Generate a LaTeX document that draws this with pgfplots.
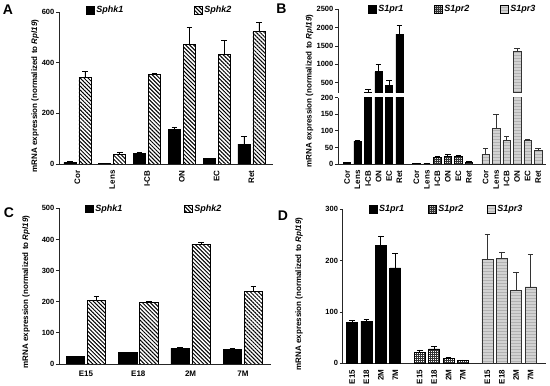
\documentclass[border=0pt]{standalone}
\usepackage{pgfplots}
\pgfplotsset{compat=1.18}
\usepackage{fontspec}
\setmainfont{Liberation Sans}
\usetikzlibrary{patterns,patterns.meta}
\pgfdeclarepatternformonly{finecheck}{\pgfpointorigin}{\pgfqpoint{2.4pt}{2.4pt}}{\pgfqpoint{2.4pt}{2.4pt}}{%
  \pgfpathrectangle{\pgfpointorigin}{\pgfqpoint{2.4pt}{1.2pt}}%
  \pgfpathrectangle{\pgfpointorigin}{\pgfqpoint{1.2pt}{2.4pt}}%
  \pgfusepath{fill}}
\pgfplotsset{
  panel/.style={
    scale only axis, anchor=south west,
    axis x line*=bottom, axis y line*=left,
    axis line style={-, line width=0.8pt, black!85},
    tick align=outside, major tick length=3pt,
    ytick style={line width=0.8pt, black!85},
    xtick style={draw=none},
    /pgf/number format/assume math mode=true,
    /pgf/number format/1000 sep={},
    scaled y ticks=false,
    yticklabel style={font=\bfseries\fontsize{7.5}{8}\selectfont, inner sep=1.5pt},
    xticklabel style={font=\bfseries\fontsize{8}{9}\selectfont},
    legend style={draw=none, fill=none, font=\bfseries\itshape\fontsize{9}{10}\selectfont, inner sep=0pt},
    legend columns=-1,
    legend image code/.code={\draw[##1, draw=black, line width=0.6pt] (0pt,-3.5pt) rectangle (7.5pt,4pt);},
  },
  eb/.style={error bars/y dir=plus, error bars/y explicit,
    error bars/error bar style={line width=0.8pt, #1},
    error bars/error mark options={rotate=90, mark size=2.8pt, line width=0.8pt, #1}},
  bk/.style={ybar, fill=black, draw=black, line width=0.6pt, eb=black},
  hz/.style={ybar, draw=black, line width=0.6pt, pattern={Lines[angle=-45,distance=2.8pt,line width=1pt]}, eb=black},
  ck/.style={ybar, draw=black, line width=0.6pt, pattern=finecheck, pattern color=black!80, eb=black},
  gy/.style={ybar, draw=black!80, line width=0.6pt, fill=gray!35, postaction={pattern=horizontal lines, pattern color=gray!60}, eb=black!80},
}
\begin{document}
\begin{tikzpicture}
\path[use as bounding box] (0,0) rectangle (550pt,386pt);

% ---------------- Panel A
\begin{axis}[panel, at={(59pt,222pt)}, width=214pt, height=152pt,
  xmin=-0.53, xmax=5.62, ymin=0, ymax=600, ytick={0,200,400,600},
  xtick={0,...,5}, xticklabels={Cor,Lens,I-CB,ON,EC,Ret},
  xticklabel style={rotate=90, anchor=east},
  legend style={at={(axis description cs:0.126,1.01)}, anchor=west,
    /tikz/every even column/.append style={column sep=69pt}}]
\addplot[bk, bar width=0.345] coordinates {
  (-0.216,6.5) +- (0,3.5) (0.784,1) +- (0,0.5) (1.784,42) +- (0,5) (2.784,136) +- (0,10) (3.784,21) +- (0,2) (4.784,78) +- (0,29)};
\addplot[hz, bar width=0.345] coordinates {
  (0.216,342) +- (0,22) (1.216,39) +- (0,5) (2.216,355) +- (0,4) (3.216,473) +- (0,68) (4.216,434) +- (0,55) (5.216,525) +- (0,33)};
\legend{Sphk1,Sphk2}
\end{axis}

% ---------------- Panel B (upper: only the bars that reach above the break)
\begin{axis}[panel, at={(338pt,293.3pt)}, width=208pt, height=83.4pt,
  axis x line=none,
  xmin=-0.86, xmax=18.95, ymin=230, ymax=2500, ytick={500,1000,1500,2000,2500},
  legend style={at={(axis description cs:0.144,0.998)}, anchor=west,
    /tikz/every even column/.append style={column sep=29pt}}]
\addplot[bk, bar width=0.71] coordinates {
  (2,245) +- (0,70) (3,800) +- (0,190) (4,436) +- (0,135) (5,1827) +- (0,225)};
\addlegendimage{ck}
\addplot[gy, bar width=0.71] coordinates {
  (16.2,1345) +- (0,90)};
\legend{S1pr1,S1pr2,S1pr3}
\end{axis}

% ---------------- Panel B (lower)
\begin{axis}[panel, at={(338pt,222pt)}, width=208pt, height=66.3pt,
  xmin=-0.86, xmax=18.95, ymin=0, ymax=200, ytick={0,50,100,150,200},
  xtick={0,1,2,3,4,5,6.6,7.6,8.6,9.6,10.6,11.6,13.2,14.2,15.2,16.2,17.2,18.2},
  xticklabels={Cor,Lens,I-CB,ON,EC,Ret,Cor,Lens,I-CB,ON,EC,Ret,Cor,Lens,I-CB,ON,EC,Ret},
  xticklabel style={rotate=90, anchor=east}]
\addplot[bk, bar width=0.71] coordinates {
  (0,5) +- (0,1) (1,69) +- (0,1) (2,245) +- (0,70) (3,800) +- (0,190) (4,436) +- (0,135) (5,1827) +- (0,225)};
\addplot[ck, bar width=0.71] coordinates {
  (6.6,1) +- (0,0.3) (7.6,0.5) +- (0,0.2) (8.6,21) +- (0,3) (9.6,23) +- (0,5) (10.6,23) +- (0,3) (11.6,6) +- (0,2)};
\addplot[gy, bar width=0.71] coordinates {
  (13.2,29) +- (0,18) (14.2,108) +- (0,42) (15.2,71) +- (0,13) (16.2,1345) +- (0,90) (17.2,72) +- (0,3) (18.2,42) +- (0,6)};
\end{axis}

% ---------------- Panel C
\begin{axis}[panel, at={(59pt,22pt)}, width=212pt, height=155.7pt,
  xmin=-0.516, xmax=3.537, ymin=0, ymax=500, ytick={0,100,...,500},
  xtick={0,...,3}, xticklabels={E15,E18,2M,7M},
  legend style={at={(axis description cs:0.123,0.995)}, anchor=west,
    /tikz/every even column/.append style={column sep=60pt}}]
\addplot[bk, bar width=0.354] coordinates {
  (-0.2,23.5) +- (0,1) (0.8,36) +- (0,1) (1.8,50) +- (0,4) (2.8,47) +- (0,3)};
\addplot[hz, bar width=0.354] coordinates {
  (0.2,203) +- (0,13) (1.2,197) +- (0,3) (2.2,385) +- (0,5) (3.2,234) +- (0,16)};
\legend{Sphk1,Sphk2}
\end{axis}

% ---------------- Panel D
\begin{axis}[panel, at={(342.7pt,22.7pt)}, width=203.3pt, height=154pt,
  xmin=-0.65, xmax=13.47, ymin=0, ymax=300, ytick={0,100,200,300},
  xtick={0,1,2,3,4.7,5.7,6.7,7.7,9.4,10.4,11.4,12.4},
  xticklabels={E15,E18,2M,7M,E15,E18,2M,7M,E15,E18,2M,7M},
  xticklabel style={rotate=90, anchor=east},
  legend style={at={(axis description cs:0.129,1.0)}, anchor=west,
    /tikz/every even column/.append style={column sep=22pt}}]
\addplot[bk, bar width=0.76] coordinates {
  (0,79) +- (0,4) (1,82) +- (0,4) (2,229) +- (0,19) (3,186) +- (0,28)};
\addplot[ck, bar width=0.76] coordinates {
  (4.7,21) +- (0,5) (5.7,28) +- (0,4) (6.7,10) +- (0,1) (7.7,5) +- (0,1.5)};
\addplot[gy, bar width=0.76] coordinates {
  (9.4,203) +- (0,49) (10.4,205) +- (0,12) (11.4,142) +- (0,36) (12.4,149) +- (0,63)};
\legend{S1pr1,S1pr2,S1pr3}
\end{axis}

% ---------------- labels
\begin{scope}[every node/.style={font=\bfseries\fontsize{8}{9.6}\selectfont, rotate=90}]
\node at (35pt,290pt) {mRNA expression (normalized to \textit{Rpl19})};
\node at (309.5pt,295pt) {mRNA expression (normalized to \textit{Rpl19})};
\node at (26pt,94pt) {mRNA expression (normalized to \textit{Rpl19})};
\node at (299pt,92pt) {mRNA expression (normalized to \textit{Rpl19})};
\end{scope}
\begin{scope}[every node/.style={font=\bfseries\fontsize{14}{14}\selectfont}]
\node at (8pt,376pt) {A};
\node at (281.5pt,377.5pt) {B};
\node at (9pt,173pt) {C};
\node at (283pt,170pt) {D};
\end{scope}
\end{tikzpicture}
\end{document}
